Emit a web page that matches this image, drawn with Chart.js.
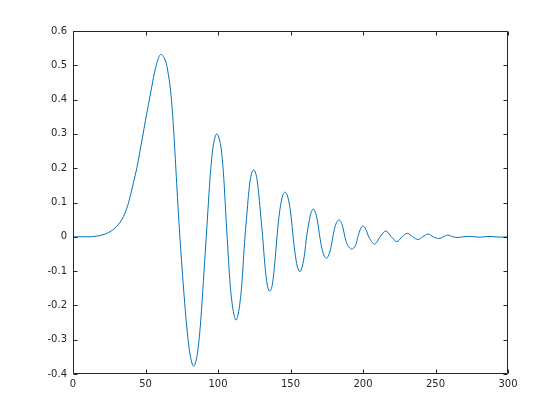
<!DOCTYPE html>
<html>
<head>
<meta charset="utf-8">
<script src="https://cdn.jsdelivr.net/npm/chart.js@4/dist/chart.umd.min.js"></script>
<style>
html,body{margin:0;padding:0;background:#fff;}
#wrap{width:560px;height:420px;position:relative;}
</style>
</head>
<body>
<div id="wrap"><canvas id="c" width="560" height="420"></canvas></div>
<script>
// Sample positions (x) and signal values (y)
const xValues = [
  0, 10, 16.4, 22.1, 26.7, 31.3, 34.8, 37.1, 39.4, 41.7, 44, 46, 48, 50, 52, 54, 56, 57.8, 59.4, 60.8,
  62.3, 64.3, 65.7, 66.9, 67.9, 68.8, 69.7, 70.6, 71.5, 72.6, 73.7,
  75.1, 76.6, 78.4, 80.6, 83.2, 85.8, 87.8, 89.3, 90.6, 91.9,
  93.1, 94.5, 96.2, 97.6, 99.2, 100.9, 102.4, 104, 105.2, 106.3,
  107.3, 108.4, 109.6, 110.9, 112.4, 113.9, 115.2, 116.4, 117.5, 118.6,
  119.8, 121, 122.4, 124.6, 126.8, 128.2, 129.5, 130.8,
  131.9, 133, 134.2, 135.7, 137.2, 138.4, 139.5, 140.7,
  142.1, 143.5, 144.8, 146.2, 147.6, 149, 150.4, 151.8,
  153.2, 154.6, 156.4, 158.2, 159.7, 161.1,
  162.6, 164, 165.7, 167.4, 168.8, 170.2,
  171.6, 173, 174.7, 176.4, 177.8, 179.2,
  180.5, 181.8, 183.4, 185, 186.2, 187.5,
  188.9, 190.5, 192.2, 193.9, 195.3, 196.5,
  198.2, 200, 201.9, 204, 208, 211.8, 215.7, 219.6, 223.3, 227, 230.6, 234.3, 237.8, 241.2, 244.8, 248.5,
  252.3, 255.5, 258.5, 262, 265.5, 269, 273, 277, 280, 284, 287, 291, 295, 300
];
const yValues = [
  0, 0, 0.002, 0.008, 0.018, 0.036, 0.059, 0.083, 0.117, 0.158, 0.2, 0.245, 0.292, 0.34, 0.385, 0.43, 0.475, 0.506, 0.526, 0.532,
  0.526, 0.506, 0.475, 0.44, 0.4, 0.35, 0.29, 0.225, 0.155, 0.075, 0,
  -0.085, -0.17, -0.26, -0.34, -0.377, -0.34, -0.26, -0.17, -0.085, 0,
  0.08, 0.17, 0.25, 0.285, 0.30, 0.285, 0.25, 0.17, 0.08, 0,
  -0.07, -0.14, -0.19, -0.225, -0.243, -0.225, -0.19, -0.14, -0.07, 0,
  0.06, 0.12, 0.17, 0.195, 0.17, 0.12, 0.06, 0,
  -0.06, -0.11, -0.145, -0.158, -0.145, -0.11, -0.06, 0,
  0.06, 0.1, 0.123, 0.130, 0.123, 0.1, 0.06, 0,
  -0.05, -0.085, -0.102, -0.085, -0.05, 0,
  0.04, 0.068, 0.081, 0.068, 0.04, 0,
  -0.033, -0.053, -0.063, -0.053, -0.033, 0,
  0.026, 0.042, 0.049, 0.042, 0.026, 0,
  -0.02, -0.031, -0.036, -0.031, -0.02, 0,
  0.022, 0.0315, 0.022, 0, -0.021, 0, 0.017, 0, -0.014, 0, 0.010, 0, -0.008, 0, 0.008, 0,
  -0.005, 0, 0.005, 0, -0.002, 0, 0.0015, 0, -0.001, 0, 0.001, 0, -0.001, 0
];
const xTicks = [0, 50, 100, 150, 200, 250, 300];
const yTicks = [-0.4, -0.3, -0.2, -0.1, 0, 0.1, 0.2, 0.3, 0.4, 0.5, 0.6];
const xTickLabels = ['0', '50', '100', '150', '200', '250', '300'];
const yTickLabels = ['-0.4', '-0.3', '-0.2', '-0.1', '0', '0.1', '0.2', '0.3', '0.4', '0.5', '0.6'];

const points = xValues.map((x, i) => ({x: x, y: yValues[i]}));
const axisColor = '#262626';

const boxPlugin = {
  id: 'matlabBox',
  afterDraw(chart) {
    const ctx = chart.ctx;
    const a = chart.chartArea;
    const xs = chart.scales.x, ys = chart.scales.y;
    const L = a.left + 0.5, R = a.right - 0.5, T = a.top + 0.5, B = a.bottom - 0.5;
    ctx.save();
    ctx.strokeStyle = axisColor;
    ctx.lineWidth = 1;
    ctx.beginPath();
    ctx.rect(L, T, R - L, B - T);
    const tl = 4;
    xTicks.forEach(v => {
      const px = Math.round(xs.getPixelForValue(v)) + 0.5;
      ctx.moveTo(px, B); ctx.lineTo(px, B - tl);
      ctx.moveTo(px, T); ctx.lineTo(px, T + tl);
    });
    yTicks.forEach(v => {
      const py = Math.round(ys.getPixelForValue(v)) + 0.5;
      ctx.moveTo(L, py); ctx.lineTo(L + tl, py);
      ctx.moveTo(R, py); ctx.lineTo(R - tl, py);
    });
    ctx.stroke();
    ctx.restore();
  }
};

new Chart(document.getElementById('c'), {
  type: 'line',
  data: {
    datasets: [{
      data: points,
      borderColor: '#0072BD',
      borderWidth: 1,
      pointRadius: 0,
      fill: false,
      cubicInterpolationMode: 'monotone'
    }]
  },
  options: {
    responsive: false,
    animation: false,
    devicePixelRatio: 1,
    layout: { padding: { left: 0, top: 31, right: 52, bottom: 0 } },
    plugins: { legend: { display: false }, tooltip: { enabled: false } },
    scales: {
      x: {
        type: 'linear', min: 0, max: 300,
        afterBuildTicks: s => { s.ticks = xTicks.map(v => ({value: v})); },
        afterFit: s => { s.height = 46; },
        grid: { display: false, drawTicks: false },
        border: { display: false },
        ticks: {
          padding: 4, color: axisColor, maxRotation: 0, autoSkip: false,
          font: { family: 'DejaVu Sans', size: 10 },
          callback: (v) => xTickLabels[xTicks.indexOf(v)]
        }
      },
      y: {
        type: 'linear', min: -0.4, max: 0.6,
        afterBuildTicks: s => { s.ticks = yTicks.map(v => ({value: v})); },
        afterFit: s => { s.width = 73; },
        grid: { display: false, drawTicks: false },
        border: { display: false },
        ticks: {
          padding: 6, color: axisColor, autoSkip: false,
          font: { family: 'DejaVu Sans', size: 10 },
          callback: (v) => {
            const i = yTicks.findIndex(t => Math.abs(t - v) < 1e-9);
            return i >= 0 ? yTickLabels[i] : '';
          }
        }
      }
    }
  },
  plugins: [boxPlugin]
});
</script>
</body>
</html>
